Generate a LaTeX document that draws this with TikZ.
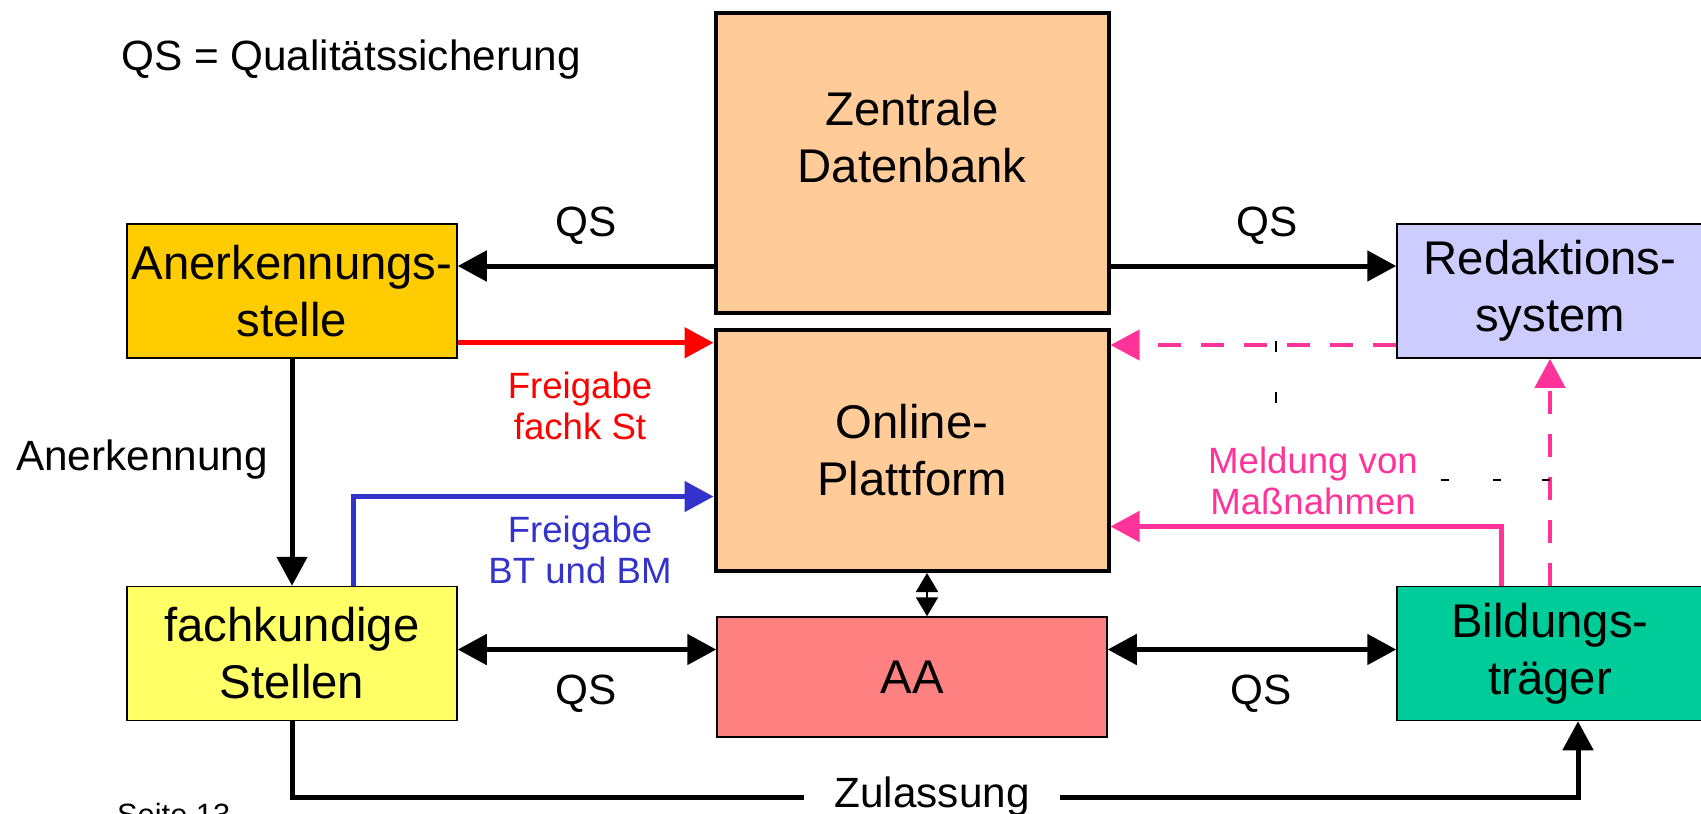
\documentclass[tikz,border=0pt]{standalone}
\usepackage{fontspec}
\setmainfont{Liberation Sans}
\usetikzlibrary{arrows.meta,positioning}

\definecolor{dbcol}{HTML}{FFCC99}
\definecolor{anercol}{HTML}{FFCC00}
\definecolor{fachcol}{HTML}{FFFF66}
\definecolor{redakcol}{HTML}{CCCCFF}
\definecolor{bildcol}{HTML}{00CC99}
\definecolor{aacol}{HTML}{FF8080}
\definecolor{pinkcol}{HTML}{FF3399}
\definecolor{bluecol}{HTML}{3333CC}

\begin{document}
\begin{tikzpicture}[x=1pt, y=-1pt]
    \tikzstyle{boxtext}=[align=center, font=\fontsize{47.3}{57}\selectfont]
    \tikzstyle{box}=[boxtext, rectangle, draw=black, line width=1.5pt, minimum width=330pt, minimum height=134pt, inner sep=0pt]
    \tikzstyle{db}=[box, line width=4pt, fill=dbcol, minimum width=393pt]
    \tikzstyle{connect}=[-{Triangle[length=29pt, width=30pt]}, line width=5pt]
    \tikzstyle{twoway}=[{Triangle[length=29pt, width=30pt]}-{Triangle[length=29pt, width=30pt]}, line width=5pt]
    \tikzstyle{smallway}=[{Triangle[length=19pt, width=22pt]}-{Triangle[length=19pt, width=22pt]}, line width=2pt]
    \tikzstyle{dashconnect}=[connect, line width=4pt, dash pattern=on 23pt off 20pt]
    \tikzstyle{lbl}=[inner sep=0pt, font=\fontsize{42.3}{50}\selectfont]
    \tikzstyle{note}=[inner sep=0pt, align=center, font=\fontsize{36.6}{41}\selectfont]
    \tikzstyle{tick}=[line width=1.5pt]

    \useasboundingbox (0,0) rectangle (1701,814);

    % boxes
    \node[db, minimum height=300pt] (zdb) at (912,163) {};
    \node[boxtext] (zdbtext) at (912,137) {Zentrale\\Datenbank};
    \node[db, minimum height=241pt] (onl) at (912,450.5) {Online-\\Plattform};
    \node[box, fill=aacol, minimum width=390pt, minimum height=120pt] (aa) at (912,677) {AA};
    \node[box, fill=anercol] (aner) at (292,291) {Anerkennungs-\\stelle};
    \node[box, fill=fachcol] (fach) at (292,653.5) {fachkundige\\Stellen};
    \node[box, fill=redakcol, minimum width=306pt] (redak) at (1550,291) {Redaktions-\\system};
    \node[box, fill=bildcol, minimum width=306pt] (bild) at (1550,653.5) {Bildungs-\\träger};

    % texts
    \node[lbl, anchor=west] (qsdef) at (121,60) {QS = Qualitätssicherung};
    \node[lbl] (qs1) at (586,226) {QS};
    \node[lbl] (qs2) at (1267,226) {QS};
    \node[lbl] (qs3) at (586,694) {QS};
    \node[lbl] (qs4) at (1261,694) {QS};
    \node[lbl, anchor=west] (anerlbl) at (16,460) {Anerkennung};
    \node[note, red] (frei1) at (580,406) {Freigabe\\fachk St};
    \node[note, bluecol] (frei2) at (580,550) {Freigabe\\BT und BM};
    \node[note, pinkcol] (meld) at (1313,481) {Meldung von\\Maßnahmen};
    \node[lbl, inner xsep=30pt] (zul) at (932,797) {Zulassung};
    \node[inner sep=0pt, anchor=north west, font=\fontsize{30.8}{36}\selectfont] (seite) at (117,803) {Seite 13};

    % connectors
    \coordinate (aqs) at ([yshift=25pt]aner.east);
    \coordinate (rqs) at ([yshift=25pt]redak.west);
    \coordinate (afrei) at ([yshift=16pt]aner.south east);
    \coordinate (rmeld) at ([yshift=-54pt]redak.west);
    \coordinate (oblue) at ([yshift=-46pt]onl.west);
    \coordinate (opink) at ([yshift=-76pt]onl.east);
    \coordinate (fqs) at ([yshift=4pt]fach.east);
    \coordinate (bqs) at ([yshift=4pt]bild.west);
    \path
      (zdb.west |- aqs) edge [connect] (aqs)
      (zdb.east |- rqs) edge [connect] (rqs)
      (afrei) edge [connect, red] (onl.west |- afrei)
      (aner) edge [connect] (fach)
      (fqs) edge [twoway] (aa.west |- fqs)
      (aa.east |- bqs) edge [twoway] (bqs)
      ([xshift=15pt]onl.south) edge [smallway] ([xshift=15pt]aa.north)
      (bild.north) edge [dashconnect, pinkcol] (redak.south)
      (rmeld) edge [dashconnect, pinkcol] (onl.east |- rmeld);
    \draw[connect, bluecol] ([xshift=61pt]fach.north) |- (oblue);
    \draw[connect, pinkcol] ([xshift=-49pt]bild.north) |- (opink);
    \draw[connect] (fach.south) |- (zul) -| ([xshift=28pt]bild.south);

    % stray marks
    \draw[tick] (1276,341) -- (1276,352);
    \draw[tick] (1276,392) -- (1276,403);
    \draw[tick] (1441,480) -- (1449,480);
    \draw[tick] (1493,480) -- (1501,480);
    \draw[tick] (1542,480) -- (1550,480);
\end{tikzpicture}
\end{document}
